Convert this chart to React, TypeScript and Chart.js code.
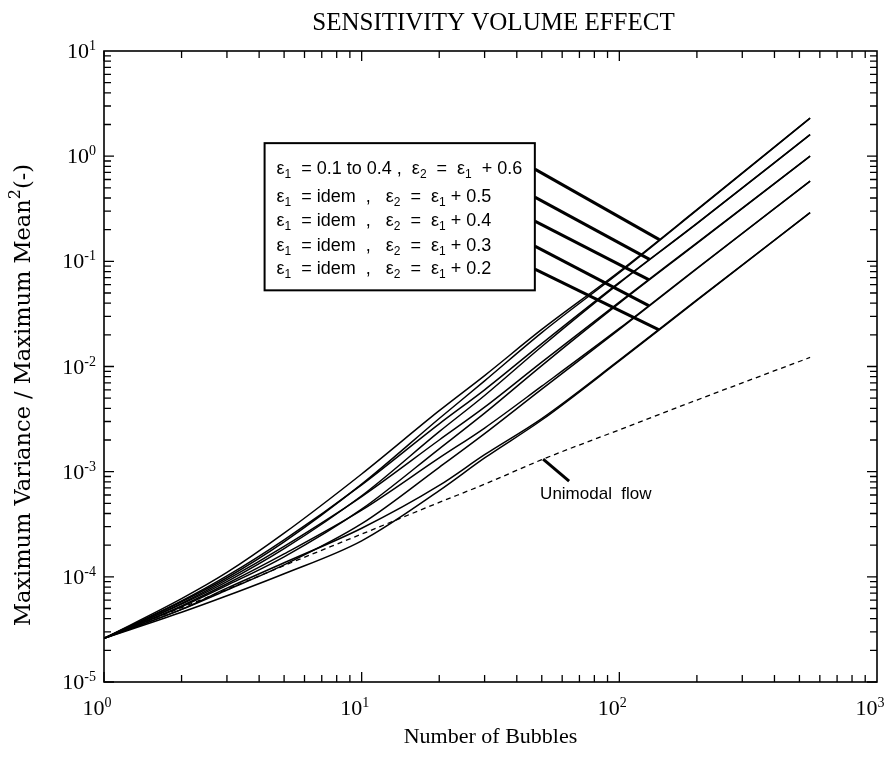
import { useEffect, useRef } from "react";
import { Chart, registerables } from "chart.js";
Chart.register(...registerables);

// ---------- data ----------
const bubbles = [1, 2, 3, 5, 10, 20, 30, 50, 100, 200, 550];
// eps2 = eps1 + 0.6
const d06a = [2.6e-5, 6.2e-5, 1.1e-4, 2.6e-4, 9.5e-4, 3.8e-3, 8.2e-3, 2.25e-2, 8.0e-2, 0.31, 2.3];
const d06b = [2.6e-5, 5.8e-5, 9.8e-5, 2.15e-4, 7.6e-4, 3.2e-3, 7.3e-3, 2.1e-2, 7.8e-2, 0.307, 2.3];
// eps2 = eps1 + 0.5
const d05a = [2.6e-5, 5.9e-5, 1.02e-4, 2.25e-4, 7.5e-4, 2.85e-3, 6.0e-3, 1.65e-2, 6.3e-2, 0.23, 1.6];
const d05b = [2.6e-5, 5.5e-5, 9.0e-5, 1.85e-4, 5.9e-4, 2.4e-3, 5.3e-3, 1.55e-2, 6.2e-2, 0.228, 1.6];
// eps2 = eps1 + 0.4
const d04a = [2.6e-5, 5.6e-5, 9.4e-5, 1.95e-4, 5.8e-4, 2.0e-3, 4.1e-3, 1.1e-2, 4.1e-2, 0.15, 1.0];
const d04b = [2.6e-5, 5.2e-5, 8.3e-5, 1.55e-4, 4.4e-4, 1.65e-3, 3.6e-3, 1.02e-2, 4.0e-2, 0.148, 1.0];
// eps2 = eps1 + 0.3
const d03a = [2.6e-5, 5.3e-5, 8.6e-5, 1.65e-4, 4.3e-4, 1.35e-3, 2.6e-3, 6.5e-3, 2.3e-2, 8.6e-2, 0.58];
const d03b = [2.6e-5, 4.9e-5, 7.5e-5, 1.3e-4, 3.2e-4, 1.1e-3, 2.3e-3, 6.1e-3, 2.25e-2, 8.5e-2, 0.58];
// eps2 = eps1 + 0.2
const d02a = [2.6e-5, 4.9e-5, 7.8e-5, 1.36e-4, 2.9e-4, 7.4e-4, 1.45e-3, 3.2e-3, 1.15e-2, 4.3e-2, 0.29];
const d02b = [2.6e-5, 4.6e-5, 6.6e-5, 1.07e-4, 2.2e-4, 6.6e-4, 1.35e-3, 3.1e-3, 1.13e-2, 4.25e-2, 0.29];
// unimodal flow
const unimodal = [2.6e-5, 5.1e-5, 7.6e-5, 1.28e-4, 2.55e-4, 5.1e-4, 7.6e-4, 1.3e-3, 2.5e-3, 4.8e-3, 1.22e-2];

const xTickValues = [1, 10, 100, 1000];
const xTickExps = ["0", "1", "2", "3"];
const yTickValues = [1e-5, 1e-4, 1e-3, 1e-2, 1e-1, 1, 10];
const yTickExps = ["-5", "-4", "-3", "-2", "-1", "0", "1"];

const legendA = ["0.1 to 0.4", "idem", "idem", "idem", "idem"];
const legendB = ["0.6", "0.5", "0.4", "0.3", "0.2"];
const leaderTargetN = [143, 131, 130, 130, 142];
const leaderSeries = [d06a, d05a, d04a, d03a, d02a];

const titleText = "SENSITIVITY VOLUME EFFECT";
const xTitle = "Number of Bubbles";
const yTitle = "Maximum Variance / Maximum Mean";
const unimodalLabel = "Unimodal  flow";
const unimodalPointN = 50.6;

// ---------- helpers ----------
const SERIF = "'Liberation Serif', 'Times New Roman', serif";
const WSERIF = "'DejaVu Serif', 'Liberation Serif', serif";
const SANS = "'Liberation Sans', Arial, Helvetica, sans-serif";

function logInterp(xs: number[], ys: number[], x: number) {
  const lx = Math.log10(x);
  for (let i = 0; i < xs.length - 1; i++) {
    const a = Math.log10(xs[i]);
    const b = Math.log10(xs[i + 1]);
    if (lx >= a && lx <= b) {
      const t = (lx - a) / (b - a);
      return Math.pow(10, Math.log10(ys[i]) + t * (Math.log10(ys[i + 1]) - Math.log10(ys[i])));
    }
  }
  return ys[ys.length - 1];
}

type Part = { t: string; font: string; dy?: number };
function drawRich(ctx: CanvasRenderingContext2D, parts: Part[], x: number, y: number, align: string) {
  let w = 0;
  for (const p of parts) {
    ctx.font = p.font;
    w += ctx.measureText(p.t).width;
  }
  let cx = align === "right" ? x - w : align === "center" ? x - w / 2 : x;
  ctx.textAlign = "left";
  ctx.textBaseline = "alphabetic";
  for (const p of parts) {
    ctx.font = p.font;
    ctx.fillText(p.t, cx, y + (p.dy || 0));
    cx += ctx.measureText(p.t).width;
  }
  return w;
}

const decorPlugin = {
  id: "decor",
  afterDatasetsDraw(chart: any) {
    const ctx: CanvasRenderingContext2D = chart.ctx;
    const xs = chart.scales.x;
    const ys = chart.scales.y;
    const { left, right, top, bottom } = chart.chartArea;
    ctx.save();
    ctx.strokeStyle = "#000";
    ctx.fillStyle = "#000";

    // frame
    ctx.lineWidth = 1.6;
    ctx.strokeRect(left, top, right - left, bottom - top);

    // inward ticks
    ctx.lineWidth = 1.3;
    ctx.beginPath();
    for (let d = 0; d < 3; d++) {
      for (let k = 1; k <= 9; k++) {
        const v = k * Math.pow(10, d);
        const px = xs.getPixelForValue(v);
        const len = k === 1 ? 10 : 7;
        ctx.moveTo(px, bottom);
        ctx.lineTo(px, bottom - len);
        ctx.moveTo(px, top);
        ctx.lineTo(px, top + len);
      }
    }
    for (let d = -5; d < 1; d++) {
      for (let k = 1; k <= 9; k++) {
        const v = k * Math.pow(10, d);
        const py = ys.getPixelForValue(v);
        const len = k === 1 ? 10 : 7;
        ctx.moveTo(left, py);
        ctx.lineTo(left + len, py);
        ctx.moveTo(right, py);
        ctx.lineTo(right - len, py);
      }
    }
    ctx.stroke();

    // tick labels
    const base = `22px ${SERIF}`;
    const sup = `14px ${SERIF}`;
    yTickValues.forEach((v, i) => {
      const py = ys.getPixelForValue(v);
      drawRich(ctx, [{ t: "10", font: base }, { t: yTickExps[i], font: sup, dy: -8 }], left - 8, py + 7, "right");
    });
    xTickValues.forEach((v, i) => {
      const px = xs.getPixelForValue(v);
      drawRich(ctx, [{ t: "10", font: base }, { t: xTickExps[i], font: sup, dy: -8 }], px - 7, bottom + 33, "center");
    });

    // titles
    drawRich(ctx, [{ t: titleText, font: `25px ${SERIF}` }], (left + right) / 2 + 3, 30, "center");
    drawRich(ctx, [{ t: xTitle, font: `22px ${SERIF}` }], (left + right) / 2, bottom + 61, "center");
    ctx.save();
    ctx.translate(30, 395);
    ctx.rotate(-Math.PI / 2);
    drawRich(
      ctx,
      [
        { t: yTitle, font: `22.5px ${WSERIF}` },
        { t: "2", font: `16px ${WSERIF}`, dy: -10 },
        { t: "(-)", font: `22.5px ${WSERIF}` },
      ],
      0,
      0,
      "center"
    );
    ctx.restore();

    // legend box
    const bx1 = xs.getPixelForValue(4.2);
    const bx2 = xs.getPixelForValue(47);
    const by1 = ys.getPixelForValue(1.33);
    const by2 = ys.getPixelForValue(0.053);
    ctx.fillStyle = "#fff";
    ctx.fillRect(bx1, by1, bx2 - bx1, by2 - by1);
    ctx.fillStyle = "#000";
    ctx.lineWidth = 2;
    ctx.strokeRect(bx1, by1, bx2 - bx1, by2 - by1);

    const fMain = `18px ${SANS}`;
    const fSub = `12px ${SANS}`;
    const rowMids = [25, 53, 77, 102, 125];
    for (let i = 0; i < 5; i++) {
      const rowMid = by1 + rowMids[i];
      const parts: Part[] =
        i === 0
          ? [
              { t: "\u03b5", font: fMain },
              { t: "1", font: fSub, dy: 4 },
              { t: "  = " + legendA[i] + " ,  ", font: fMain },
              { t: "\u03b5", font: fMain },
              { t: "2", font: fSub, dy: 4 },
              { t: "  =  ", font: fMain },
              { t: "\u03b5", font: fMain },
              { t: "1", font: fSub, dy: 4 },
              { t: "  + " + legendB[i], font: fMain },
            ]
          : [
              { t: "\u03b5", font: fMain },
              { t: "1", font: fSub, dy: 4 },
              { t: "  = " + legendA[i] + "  ,   ", font: fMain },
              { t: "\u03b5", font: fMain },
              { t: "2", font: fSub, dy: 4 },
              { t: "  =  ", font: fMain },
              { t: "\u03b5", font: fMain },
              { t: "1", font: fSub, dy: 4 },
              { t: " + " + legendB[i], font: fMain },
            ];
      drawRich(ctx, parts, bx1 + 12, rowMid + 6, "left");

      // leader line
      const tn = leaderTargetN[i];
      const ty = logInterp(bubbles, leaderSeries[i], tn);
      ctx.lineWidth = 3;
      ctx.beginPath();
      ctx.moveTo(bx2, rowMid + 1);
      ctx.lineTo(xs.getPixelForValue(tn), ys.getPixelForValue(ty));
      ctx.stroke();
    }

    // unimodal label
    const ux = xs.getPixelForValue(unimodalPointN);
    const uy = ys.getPixelForValue(logInterp(bubbles, unimodal, unimodalPointN));
    ctx.lineWidth = 3;
    ctx.beginPath();
    ctx.moveTo(ux, uy);
    ctx.lineTo(ux + 26, uy + 22);
    ctx.stroke();
    drawRich(ctx, [{ t: unimodalLabel, font: `17px ${SANS}` }], ux - 3, uy + 40, "left");

    ctx.restore();
  },
};

export default function App() {
  const ref = useRef<HTMLCanvasElement | null>(null);
  useEffect(() => {
    if (!ref.current) return;
    const mk = (arr: number[]) => bubbles.map((n, i) => ({ x: n, y: arr[i] }));
    const solid = (arr: number[]) => ({
      data: mk(arr),
      borderColor: "#000",
      borderWidth: 1.5,
      pointRadius: 0,
      fill: false,
      cubicInterpolationMode: "monotone" as const,
    });
    const chart = new Chart(ref.current, {
      type: "line",
      data: {
        datasets: [
          solid(d06a),
          solid(d06b),
          solid(d05a),
          solid(d05b),
          solid(d04a),
          solid(d04b),
          solid(d03a),
          solid(d03b),
          solid(d02a),
          solid(d02b),
          { ...solid(unimodal), borderDash: [5, 4], borderWidth: 1.3 },
        ],
      },
      options: {
        responsive: false,
        animation: false,
        layout: { padding: { left: 104, top: 51, right: 8, bottom: 80 } },
        plugins: { legend: { display: false }, tooltip: { enabled: false }, title: { display: false } },
        scales: {
          x: { type: "logarithmic", min: 1, max: 1000, display: false },
          y: { type: "logarithmic", min: 1e-5, max: 10, display: false },
        },
      },
      plugins: [decorPlugin],
    });
    return () => chart.destroy();
  }, []);
  return (
    <div style={{ position: "absolute", left: 0, top: 0, width: 885, height: 762, background: "#fff" }}>
      <canvas ref={ref} width={885} height={762} style={{ display: "block", width: 885, height: 762 }} />
    </div>
  );
}
